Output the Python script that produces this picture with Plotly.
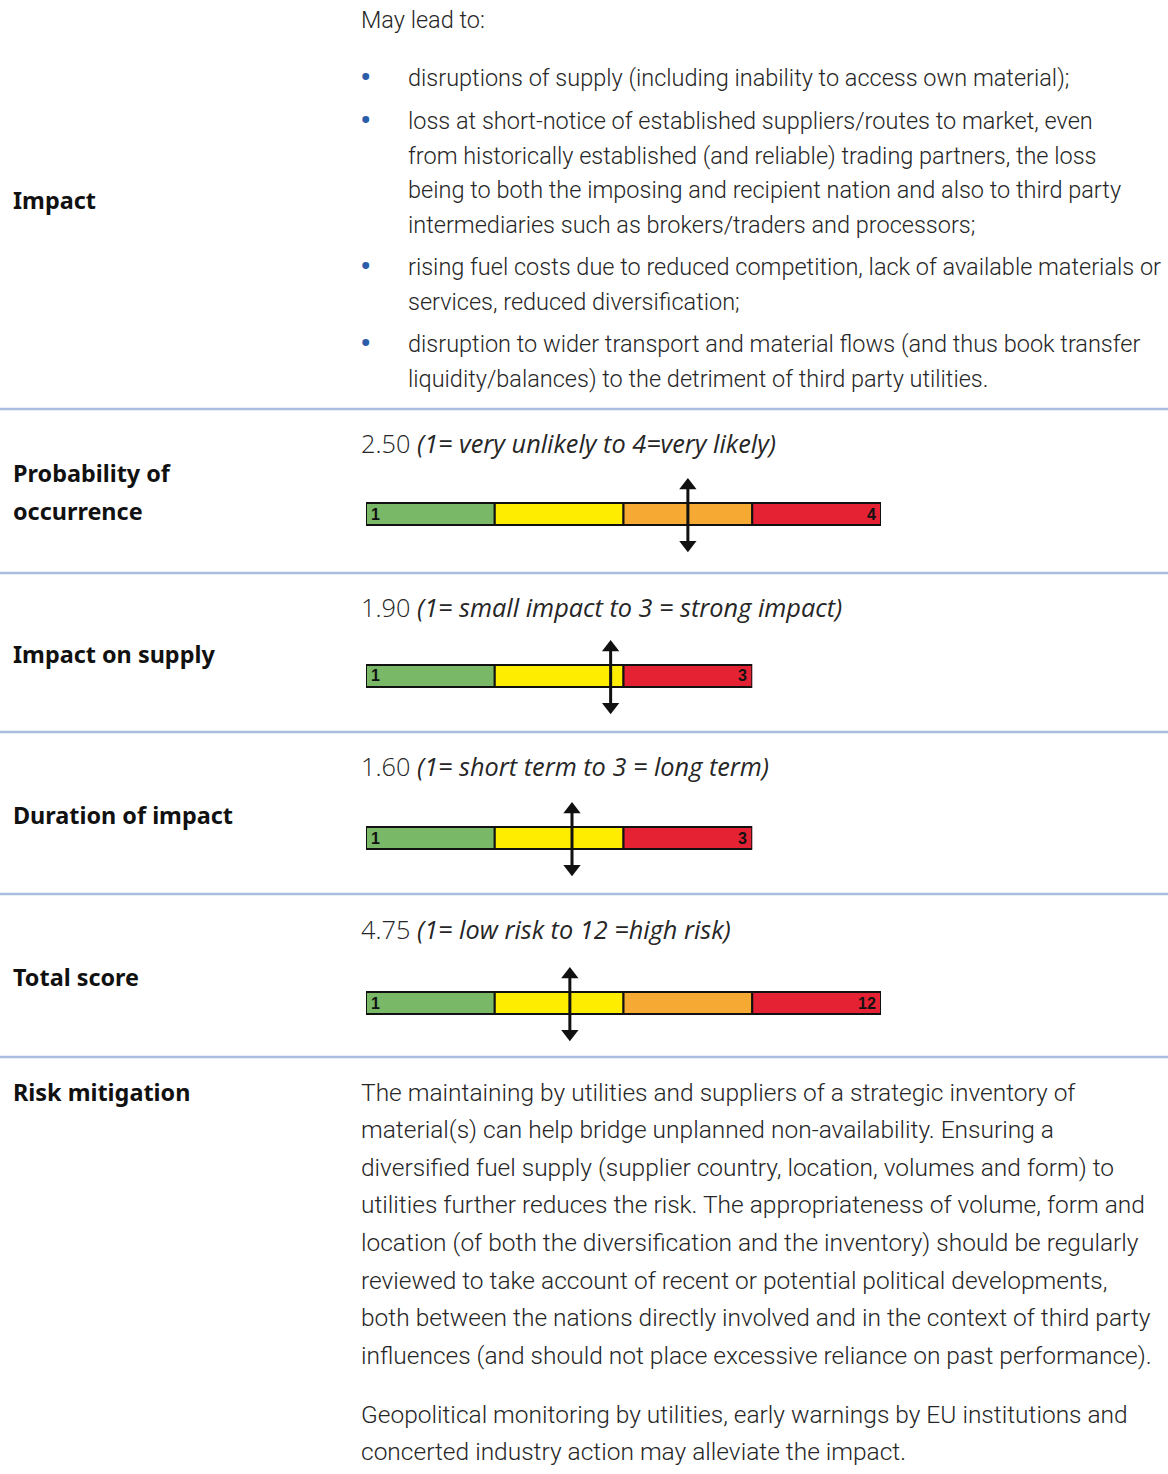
import plotly.graph_objects as go

W, H = 1168, 1474

# ---------------- data ----------------
row_labels = ["Impact", "Probability of<br>occurrence", "Impact on supply", "Duration of impact", "Total score", "Risk mitigation"]
gauge_values = [2.50, 1.90, 1.60, 4.75]
gauge_max = [4, 3, 3, 12]
gauge_segments = [4, 3, 3, 4]
gauge_value_text = ["2.50", "1.90", "1.60", "4.75"]
gauge_scale_text = ["(1= very unlikely to 4=very likely)",
                    "(1= small impact to 3 = strong impact)",
                    "(1= short term to 3 = long term)",
                    "(1= low risk to 12 =high risk)"]
seg_colors_4 = ["#78b866", "#ffed00", "#f6a933", "#e52233"]
seg_colors_3 = ["#78b866", "#ffed00", "#e52233"]

impact_intro = "May lead to:"
impact_bullets = [
    ["disruptions of supply (including inability to access own material);"],
    ["loss at short-notice of established suppliers/routes to market, even",
     "from historically established (and reliable) trading partners, the loss",
     "being to both the imposing and recipient nation and also to third party",
     "intermediaries such as brokers/traders and processors;"],
    ["rising fuel costs due to reduced competition, lack of available materials or",
     "services, reduced diversification;"],
    ["disruption to wider transport and material flows (and thus book transfer",
     "liquidity/balances) to the detriment of third party utilities."],
]
mitigation_paragraphs = [
    ["The maintaining by utilities and suppliers of a strategic inventory of",
     "material(s) can help bridge unplanned non-availability. Ensuring a",
     "diversified fuel supply (supplier country, location, volumes and form) to",
     "utilities further reduces the risk. The appropriateness of volume, form and",
     "location (of both the diversification and the inventory) should be regularly",
     "reviewed to take account of recent or potential political developments,",
     "both between the nations directly involved and in the context of third party",
     "influences (and should not place excessive reliance on past performance)."],
    ["Geopolitical monitoring by utilities, early warnings by EU institutions and",
     "concerted industry action may alleviate the impact."],
]

# ---------------- layout helpers ----------------
BULLET_FONT = dict(family="Roboto", size=23.5, color="#262626", weight=300)
PARA_FONT = dict(family="Roboto", size=24.5, color="#262626", weight=300)
HEADER_FONT = dict(family="Open Sans", size=25.3, color="#262626", weight=400)
LABEL_FONT = dict(family="Noto Sans", size=23.4, color="#111111", weight="bold")
TEXT_X = 361
BULLET_TEXT_X = 408
BULLET_X = 366


def px(x):
    return x / W


def py(y):
    return 1 - y / H


fig = go.Figure()
annotations = []
shapes = []


def add_text(x, y, text, font, xanchor="left"):
    annotations.append(dict(x=px(x), y=py(y), xref="paper", yref="paper", text=text,
                            showarrow=False, xanchor=xanchor, yanchor="middle",
                            font=font, align="left", xshift=-2))


# row labels
label_y = [200, 492, 654, 815, 977, 1092]
for lab, ly in zip(row_labels, label_y):
    if "<br>" in lab:
        parts = lab.split("<br>")
        add_text(13, ly - 19.5, parts[0], LABEL_FONT)
        add_text(13, ly + 19.5, parts[1], LABEL_FONT)
    else:
        add_text(13, ly, lab, LABEL_FONT)

# separators
sep_y = [409, 573, 732, 894, 1057]
for sy in sep_y:
    shapes.append(dict(type="line", xref="paper", yref="paper", x0=0, x1=1,
                       y0=py(sy), y1=py(sy), line=dict(color="#a8bde0", width=2.5)))

# impact text
add_text(TEXT_X, 20, impact_intro, BULLET_FONT)
bullet_start_y = [78, 121, 267, 344]
line_gap = 34.5
for start, lines in zip(bullet_start_y, impact_bullets):
    add_text(BULLET_X - 6, start - 1, "•", dict(family="Roboto", size=34, color="#2a5caa"))
    for i, ln in enumerate(lines):
        add_text(BULLET_TEXT_X, start + i * line_gap, ln, BULLET_FONT)

# mitigation text
para_start_y = [1092, 1414]
for start, lines in zip(para_start_y, mitigation_paragraphs):
    for i, ln in enumerate(lines):
        add_text(TEXT_X, start + i * 37.6, ln, PARA_FONT)

# gauge headers
header_y = [443, 607, 766, 929]
for hy, vt, st in zip(header_y, gauge_value_text, gauge_scale_text):
    add_text(TEXT_X, hy, f"<span style='font-weight:300'>{vt}</span> <i>{st}</i>", HEADER_FONT)

# gauges
bar_center_y = [514, 676, 838, 1003]
SEG_PX = 128.75
GAUGE_X0 = 366
AX_H = 92  # pixel height of each gauge axis
for gi, (val, mx, nseg, cy) in enumerate(zip(gauge_values, gauge_max, gauge_segments, bar_center_y)):
    n = gi + 1
    xa = "x" if n == 1 else f"x{n}"
    ya = "y" if n == 1 else f"y{n}"
    xkey = "xaxis" if n == 1 else f"xaxis{n}"
    ykey = "yaxis" if n == 1 else f"yaxis{n}"
    x1 = GAUGE_X0 + SEG_PX * nseg
    fig.update_layout({
        xkey: dict(domain=[px(GAUGE_X0), px(x1)], range=[0, mx], visible=False, fixedrange=True,
                   anchor=ya),
        ykey: dict(domain=[py(cy + AX_H / 2), py(cy - AX_H / 2)], range=[-2.09, 2.09], visible=False,
                   fixedrange=True, anchor=xa),
    })
    colors = seg_colors_4 if nseg == 4 else seg_colors_3
    step = mx / nseg
    for s in range(nseg):
        fig.add_trace(go.Bar(x=[step], base=[s * step], y=[0], orientation="h", width=1,
                             marker=dict(color=colors[s], line=dict(color="#111111", width=2)),
                             xaxis=xa, yaxis=ya, showlegend=False, hoverinfo="skip",
                             cliponaxis=False))
    # end labels
    annotations.append(dict(x=0, y=0, xref=xa, yref=ya, text="<b>1</b>", showarrow=False,
                            xanchor="left", yanchor="middle", xshift=3,
                            font=dict(family="Liberation Sans", size=16, color="#111111")))
    annotations.append(dict(x=mx, y=0, xref=xa, yref=ya, text=f"<b>{mx}</b>", showarrow=False,
                            xanchor="right", yanchor="middle", xshift=-3,
                            font=dict(family="Liberation Sans", size=16, color="#111111")))
    # arrow
    fig.add_trace(go.Scatter(x=[val, val], y=[-1.35, 1.25], mode="lines",
                             line=dict(color="#111111", width=3), xaxis=xa, yaxis=ya,
                             showlegend=False, hoverinfo="skip", cliponaxis=False))
    fig.add_trace(go.Scatter(x=[val, val], y=[-1.4, 1.3], mode="markers",
                             marker=dict(symbol=["triangle-down", "triangle-up"], size=15,
                                         color="#111111"),
                             xaxis=xa, yaxis=ya, showlegend=False, hoverinfo="skip",
                             cliponaxis=False))

fig.update_layout(
    width=W, height=H, margin=dict(l=0, r=0, t=0, b=0),
    paper_bgcolor="white", plot_bgcolor="rgba(0,0,0,0)",
    barmode="overlay", showlegend=False,
    annotations=annotations, shapes=shapes,
)

fig.write_html("out.html", config={"displayModeBar": False},
               post_script="document.body.style.margin='0';")
